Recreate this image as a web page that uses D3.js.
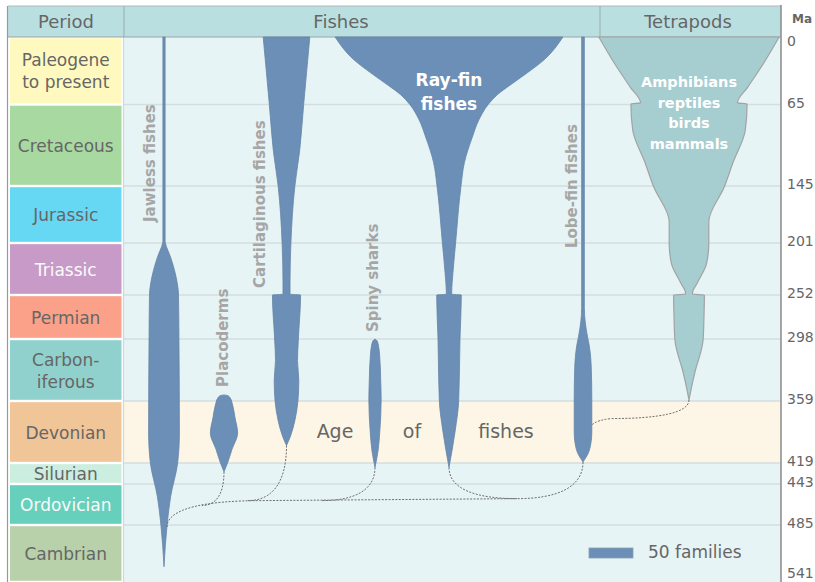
<!DOCTYPE html>
<html>
<head>
<meta charset="utf-8">
<script src="https://cdn.jsdelivr.net/npm/d3@7"></script>
<style>
body { margin: 0; background: #fff; }
text { font-family: "DejaVu Sans", sans-serif; }
</style>
</head>
<body>
<svg id="chart" width="815" height="582"></svg>
<script>
'use strict';

// periods, youngest first
var periodNames = ['Paleogene\nto present', 'Cretaceous', 'Jurassic', 'Triassic', 'Permian',
	'Carbon-\niferous', 'Devonian', 'Silurian', 'Ordovician', 'Cambrian'];
var periodColors = ['#fff9bf', '#a8d9a1', '#66d8f4', '#c89ac8', '#fba18a',
	'#90d1cd', '#f0c597', '#cbeee0', '#67d0bc', '#b8d1aa'];
var periodText = ['#666', '#666', '#666', '#fafafa', '#666', '#666', '#666', '#666', '#fafafa', '#666'];

// boundaries in Ma (also the axis ticks)
var tickAges = [0, 65, 145, 201, 252, 298, 359, 419, 443, 485, 541];

// spindle profiles: [age Ma, number of families]
var jawless = [[0, 2.5], [200, 2.5], [201, 3], [215, 15], [228, 24], [240, 30], [252, 33],
	[300, 34], [390, 35], [419, 31], [456, 15], [485, 7], [526, 0]];
var placoderms = [[353, 0], [353.6, 8], [356, 14], [362, 19], [375, 25], [390, 31],
	[406, 18], [419, 8], [429, 0]];
var cartilaginous = [[0, 53], [65, 39], [110, 30], [145, 19], [201, 10], [240, 8], [251.2, 8],
	[252, 32], [298, 27], [319, 25], [339, 28], [359, 26], [378, 19], [393, 9], [402, 0]];
var spinySharks = [[298, 0], [300, 5], [305, 8], [314, 10.5], [339, 13], [358, 14],
	[388, 11], [407, 7], [424, 0]];
var rayFin = [[0, 259], [22, 216], [34.5, 178], [46, 140], [55.5, 110], [65, 89], [80, 68],
	[97, 53], [122, 35], [146, 27], [201, 15], [230, 9], [250, 6], [251.2, 6],
	[252, 28], [298, 25], [359, 22], [388, 14], [424, 0]];
var lobeFin = [[0, 3], [265, 3], [280, 5], [295, 10], [304, 14], [329, 19], [358, 20],
	[389, 20], [406, 15], [418, 0]];
var tetrapods = [[0, 205], [25, 170], [48, 134], [63.5, 110], [64.5, 132], [90, 128],
	[122, 100], [146, 80], [180, 45], [201, 45], [221, 40], [240, 19], [250, 8], [251.2, 8],
	[252, 35], [275, 34], [299, 32], [312, 26], [328, 15], [341, 8], [358, 0]];

var legendFamilies = 50;

// ---- layout ----
var svg = d3.select('#chart');
var plotL = 124, plotR = 781, plotT = 37, plotB = 582;
var colL = 10, colR = 121.5;

var y = d3.scaleLinear().domain(tickAges)
	.range([37, 104.5, 186, 243, 295, 339, 401, 463, 484, 525, 582]);
var fam = d3.scaleLinear().domain([0, 50]).range([0, 44]);

var blue = '#6b8fb6';

// header
svg.append('rect').attr('x', 8).attr('y', 6).attr('width', plotR - 8).attr('height', plotT - 6)
	.attr('fill', '#badfe1');
svg.append('line').attr('x1', 8).attr('x2', plotR).attr('y1', 6).attr('y2', 6)
	.attr('stroke', '#b0b8b8');
[124, 600].forEach(function(x) {
	svg.append('line').attr('x1', x).attr('x2', x).attr('y1', 6).attr('y2', plotT)
		.attr('stroke', '#9db5b7').attr('stroke-width', 1.2);
});
[['Period', 66], ['Fishes', 341], ['Tetrapods', 688]].forEach(function(h) {
	svg.append('text').attr('x', h[1]).attr('y', 27.5).attr('text-anchor', 'middle')
		.attr('font-size', 18).attr('fill', '#666').text(h[0]);
});

// plot background
svg.append('rect').attr('x', plotL).attr('y', plotT).attr('width', plotR - plotL)
	.attr('height', plotB - plotT).attr('fill', '#e6f4f5');
svg.append('rect').attr('x', plotL).attr('y', y(359)).attr('width', plotR - plotL)
	.attr('height', y(419) - y(359)).attr('fill', '#fdf6e6');

// grid
svg.selectAll('.grid').data(tickAges.slice(1, -1)).enter().append('line')
	.attr('x1', plotL).attr('x2', plotR)
	.attr('y1', function(d) { return y(d); }).attr('y2', function(d) { return y(d); })
	.attr('stroke', '#d3dedf').attr('stroke-width', 1.6);

svg.append('line').attr('x1', plotL - 0.5).attr('x2', plotL - 0.5).attr('y1', plotT).attr('y2', plotB)
	.attr('stroke', '#d0d8d8').attr('stroke-width', 1.2);
svg.append('line').attr('x1', 8).attr('x2', plotR).attr('y1', plotT).attr('y2', plotT)
	.attr('stroke', '#9aa6a6').attr('stroke-width', 1.2);
svg.append('line').attr('x1', 7.5).attr('x2', 7.5).attr('y1', 6).attr('y2', plotB)
	.attr('stroke', '#999').attr('stroke-width', 1.2);

// period column
var cells = svg.selectAll('.period').data(periodNames).enter().append('g');
cells.append('rect')
	.attr('x', colL).attr('width', colR - colL)
	.attr('y', function(d, i) { return y(tickAges[i]) + 1.2; })
	.attr('height', function(d, i) { return y(tickAges[i + 1]) - y(tickAges[i]) - 2.4; })
	.attr('fill', function(d, i) { return periodColors[i]; });
cells.each(function(d, i) {
	var lines = d.split('\n');
	var cy = (y(tickAges[i]) + y(tickAges[i + 1])) / 2;
	var t = d3.select(this).append('text').attr('text-anchor', 'middle')
		.attr('font-size', 17).attr('fill', periodText[i]);
	lines.forEach(function(l, k) {
		t.append('tspan').attr('x', (colL + colR) / 2)
			.attr('y', cy + (k - (lines.length - 1) / 2) * 22 + 6.5).text(l);
	});
});

// Age of fishes
[['Age', 335], ['of', 412], ['fishes', 506]].forEach(function(a) {
	svg.append('text').attr('x', a[1]).attr('y', 438).attr('text-anchor', 'middle')
		.attr('font-size', 19).attr('fill', '#666').text(a[0]);
});

// spindles
var clades = [
	{ data: jawless, cx: 164, fill: blue },
	{ data: placoderms, cx: 224, fill: blue },
	{ data: cartilaginous, cx: 286.5, fill: blue },
	{ data: spinySharks, cx: 375, fill: blue },
	{ data: rayFin, cx: 449, fill: blue },
	{ data: lobeFin, cx: 583, fill: blue },
	{ data: tetrapods, cx: 689, fill: '#a6cdcf', stroke: '#a3a3a3' }
];
clades.forEach(function(c) {
	var area = d3.area().curve(d3.curveMonotoneY)
		.y(function(d) { return y(d[0]); })
		.x0(function(d) { return c.cx - fam(d[1]) / 2; })
		.x1(function(d) { return c.cx + fam(d[1]) / 2; });
	svg.append('path').datum(c.data).attr('d', area)
		.attr('fill', c.fill).attr('stroke', c.stroke || '#6684a6')
		.attr('stroke-width', c.stroke ? 1.2 : 0.8).attr('stroke-linejoin', 'round');
});

// ancestry links (dotted)
function branch(p, x0, y0, x1, y1) {
	p.moveTo(x0, y0);
	p.bezierCurveTo(x0, y0 + (y1 - y0) * 0.7, x0 + (x1 - x0) * 0.4, y1, x1, y1);
}
var trunkY = y(460);
var p = d3.path();
branch(p, 167, y(487), 262, trunkY);
p.lineTo(517, y(458));
branch(p, 224, y(429), 202, y(465));
branch(p, 286.5, y(402), 248, trunkY);
branch(p, 375, y(424), 322, trunkY);
branch(p, 449, y(424), 517, y(458));
branch(p, 583, y(418), 517, y(458));
branch(p, 689, y(358), 612, y(376));
p.quadraticCurveTo(598, y(377), 592, y(382));
svg.append('path').attr('d', p.toString()).attr('fill', 'none')
	.attr('stroke', '#6e6e6e').attr('stroke-width', 1).attr('stroke-dasharray', '2,1.4');

// vertical clade labels
[['Jawless fishes', 155, 222], ['Placoderms', 227.5, 387], ['Cartilaginous fishes', 264.5, 288],
	['Spiny sharks', 377.5, 332], ['Lobe-fin fishes', 577, 248]].forEach(function(l) {
	svg.append('text').attr('transform', 'translate(' + l[1] + ',' + l[2] + ') rotate(-90)')
		.attr('font-size', 15).attr('font-weight', 'bold').attr('fill', '#a6a6a6').text(l[0]);
});

// white labels inside spindles
[['Ray-fin', 86], ['fishes', 110]].forEach(function(l) {
	svg.append('text').attr('x', 449).attr('y', l[1]).attr('text-anchor', 'middle')
		.attr('font-size', 17).attr('font-weight', 'bold').attr('fill', '#fff').text(l[0]);
});
[['Amphibians', 87], ['reptiles', 107.5], ['birds', 128], ['mammals', 148.5]].forEach(function(l) {
	svg.append('text').attr('x', 689).attr('y', l[1]).attr('text-anchor', 'middle')
		.attr('font-size', 14.5).attr('font-weight', 'bold').attr('fill', '#fff').text(l[0]);
});

// legend
svg.append('rect').attr('x', 589).attr('y', 548).attr('width', fam(legendFamilies)).attr('height', 10)
	.attr('fill', blue).attr('stroke', '#8aa0b5').attr('stroke-width', 0.8);
svg.append('text').attr('x', 648).attr('y', 558).attr('font-size', 17).attr('fill', '#666')
	.text(legendFamilies + ' families');

// right axis
svg.append('rect').attr('x', plotR).attr('y', 0).attr('width', 815 - plotR).attr('height', 582).attr('fill', '#fff');
var axis = d3.axisRight(y).tickValues(tickAges).tickSize(0).tickPadding(6).tickFormat(d3.format('d'));
var gAxis = svg.append('g').attr('transform', 'translate(' + plotR + ',0)').call(axis);
gAxis.attr('font-family', 'DejaVu Sans').attr('font-size', 14);
gAxis.select('.domain').remove();
gAxis.selectAll('text').attr('fill', '#666')
	.attr('dy', function(d) { return d === 0 ? '0.6em' : (d === 541 ? '-0.3em' : '0.2em'); });
svg.append('line').attr('x1', plotR).attr('x2', plotR).attr('y1', 5).attr('y2', plotB)
	.attr('stroke', '#8a8a8a').attr('stroke-width', 1.5);
svg.append('text').attr('x', 792).attr('y', 23).attr('font-size', 12).attr('font-weight', 'bold')
	.attr('fill', '#666').text('Ma');
</script>
</body>
</html>
